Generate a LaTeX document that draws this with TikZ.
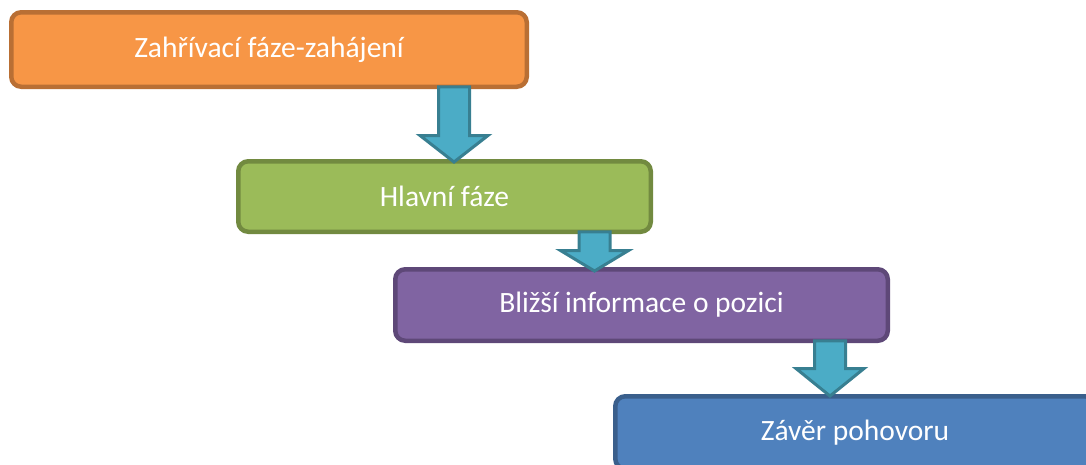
\documentclass[tikz,border=0pt]{standalone}
\usepackage{fontspec}
\setmainfont{Carlito}
\usetikzlibrary{calc}
\definecolor{orfill}{HTML}{F79646}
\definecolor{ordraw}{HTML}{B96F34}
\definecolor{grfill}{HTML}{9BBB59}
\definecolor{grdraw}{HTML}{728A40}
\definecolor{pufill}{HTML}{8064A2}
\definecolor{pudraw}{HTML}{5E4878}
\definecolor{blfill}{HTML}{4F81BD}
\definecolor{bldraw}{HTML}{3A5F8C}
\definecolor{arfill}{HTML}{4BACC6}
\definecolor{ardraw}{HTML}{387F91}
\tikzset{
  stage/.style={rectangle, rounded corners=10pt, line width=4.5pt, text=white,
    font=\fontsize{29.5}{34}\selectfont, inner sep=0pt, outer sep=0pt},
  blockarrow/.style={fill=arfill, draw=ardraw, line width=3pt, line join=miter}
}
\newcommand{\blockarr}[2]{% #1 start coordinate, #2 tip coordinate; head base given via (#1-hb)
  \draw[blockarrow] let \p1=(#1), \p2=(#2), \p3=(#1-hb) in
    (\x1-15.5pt,\y1) -- (\x1+15.5pt,\y1) -- (\x1+15.5pt,\y3) -- (\x1+34pt,\y3)
    -- (\x2,\y2) -- (\x1-34pt,\y3) -- (\x1-15.5pt,\y3) -- cycle;}
\begin{document}
\begin{tikzpicture}[x=1pt,y=-1pt]
\useasboundingbox (0,0) rectangle (1086,464);
\clip (0,0) rectangle (1086,464);
\node[stage, fill=orfill, draw=ordraw, minimum width=515.5pt, minimum height=74.5pt] (b1) at (269,49.5) {Zahřívací fáze-zahájení};
\node[stage, fill=grfill, draw=grdraw, minimum width=412.5pt, minimum height=70.5pt] (b2) at (444.5,196.5) {Hlavní fáze};
\node[stage, fill=pufill, draw=pudraw, minimum width=492.5pt, minimum height=71.5pt] (b3) at (641.5,305) {Bližší informace o pozici};
\node[stage, fill=blfill, draw=bldraw, minimum width=479.5pt, minimum height=72.5pt] (b4) at (855,432.5) {Závěr pohovoru};
% arrows
\coordinate (a1) at (b1.south -| 454,0);
\coordinate (a1-hb) at (454,135.5);
\coordinate (a1-tip) at (454,162);
\coordinate (a2) at (b2.south -| 594.5,0);
\coordinate (a2-hb) at (594.5,250.5);
\coordinate (a2-tip) at (594.5,271);
\coordinate (a3) at (b3.south -| 830,0);
\coordinate (a3-hb) at (830,368.5);
\coordinate (a3-tip) at (830,396);
\blockarr{a1}{a1-tip}
\blockarr{a2}{a2-tip}
\blockarr{a3}{a3-tip}
\end{tikzpicture}
\end{document}
